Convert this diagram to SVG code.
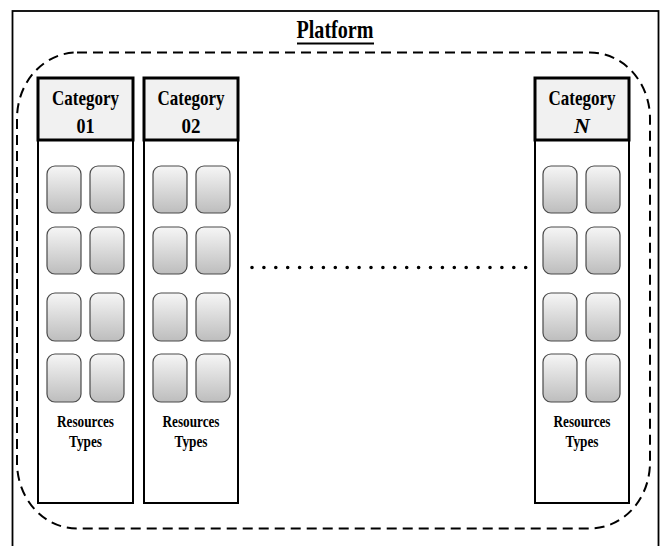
<svg xmlns="http://www.w3.org/2000/svg" width="661" height="546" viewBox="0 0 661 546">
<style>
.t{font-family:"Liberation Serif","Times New Roman",serif;font-weight:bold;fill:#000;text-anchor:middle}
.hdr{fill:#f1f1f1;stroke:#000;stroke-width:3}
.body{fill:#fff;stroke:#000;stroke-width:2}
.res{fill:url(#g);stroke:#4a4a4a;stroke-width:1.2}
</style>
<defs>
<linearGradient id="g" x1="0" y1="0" x2="0" y2="1">
<stop offset="0" stop-color="#f6f6f6"/>
<stop offset="1" stop-color="#bdbdbd"/>
</linearGradient>
<g id="cells">
<rect class="res" x="9" y="88" width="34" height="47" rx="8"/>
<rect class="res" x="52" y="88" width="34" height="47" rx="8"/>
<rect class="res" x="9" y="149" width="34" height="47" rx="8"/>
<rect class="res" x="52" y="149" width="34" height="47" rx="8"/>
<rect class="res" x="9" y="215" width="34" height="48" rx="8"/>
<rect class="res" x="52" y="215" width="34" height="48" rx="8"/>
<rect class="res" x="9" y="276" width="34" height="48" rx="8"/>
<rect class="res" x="52" y="276" width="34" height="48" rx="8"/>
</g>
</defs>
<rect width="661" height="546" fill="#fff"/>
<g id="frame">
<rect x="12.5" y="11" width="646" height="545" fill="none" stroke="#000" stroke-width="1.8"/>
<text class="t" x="335" y="38" font-size="26" textLength="77" lengthAdjust="spacingAndGlyphs">Platform</text>
<line x1="297" y1="43.5" x2="374" y2="43.5" stroke="#000" stroke-width="2"/>
</g>
<g id="platform">
<rect x="17" y="52.5" width="633" height="476" rx="60" ry="66" fill="none" stroke="#000" stroke-width="2" stroke-dasharray="10,6"/>
</g>
<g id="cat01" transform="translate(38,0)">
<rect class="body" x="0" y="140" width="95" height="363"/>
<rect class="hdr" x="0" y="78" width="95" height="62"/>
<text class="t" x="47.5" y="105" font-size="22" textLength="67" lengthAdjust="spacingAndGlyphs">Category</text>
<text class="t" x="47.5" y="133" font-size="22" textLength="18" lengthAdjust="spacingAndGlyphs">01</text>
<use href="#cells" transform="translate(0,78)"/>
<text class="t" x="47.5" y="427" font-size="17" textLength="57" lengthAdjust="spacingAndGlyphs">Resources</text>
<text class="t" x="47.5" y="447" font-size="17" textLength="33" lengthAdjust="spacingAndGlyphs">Types</text>
</g>
<g id="cat02" transform="translate(144,0)">
<rect class="body" x="0" y="140" width="94" height="363"/>
<rect class="hdr" x="0" y="78" width="94" height="62"/>
<text class="t" x="47" y="105" font-size="22" textLength="67" lengthAdjust="spacingAndGlyphs">Category</text>
<text class="t" x="47" y="133" font-size="22" textLength="19" lengthAdjust="spacingAndGlyphs">02</text>
<use href="#cells" transform="translate(0,78)"/>
<text class="t" x="47" y="427" font-size="17" textLength="57" lengthAdjust="spacingAndGlyphs">Resources</text>
<text class="t" x="47" y="447" font-size="17" textLength="33" lengthAdjust="spacingAndGlyphs">Types</text>
</g>
<g id="catN" transform="translate(535,0)">
<rect class="body" x="0" y="140" width="94" height="363"/>
<rect class="hdr" x="0" y="78" width="94" height="62"/>
<text class="t" x="47" y="105" font-size="22" textLength="67" lengthAdjust="spacingAndGlyphs">Category</text>
<text class="t" x="47" y="133" font-size="22" font-style="italic">N</text>
<use href="#cells" transform="translate(-1,78)"/>
<text class="t" x="47" y="427" font-size="17" textLength="57" lengthAdjust="spacingAndGlyphs">Resources</text>
<text class="t" x="47" y="447" font-size="17" textLength="33" lengthAdjust="spacingAndGlyphs">Types</text>
</g>
<g id="connectors">
<line x1="252" y1="267.5" x2="526" y2="267.5" stroke="#000" stroke-width="3.6" stroke-linecap="round" stroke-dasharray="0,11.9"/>
</g>
</svg>
